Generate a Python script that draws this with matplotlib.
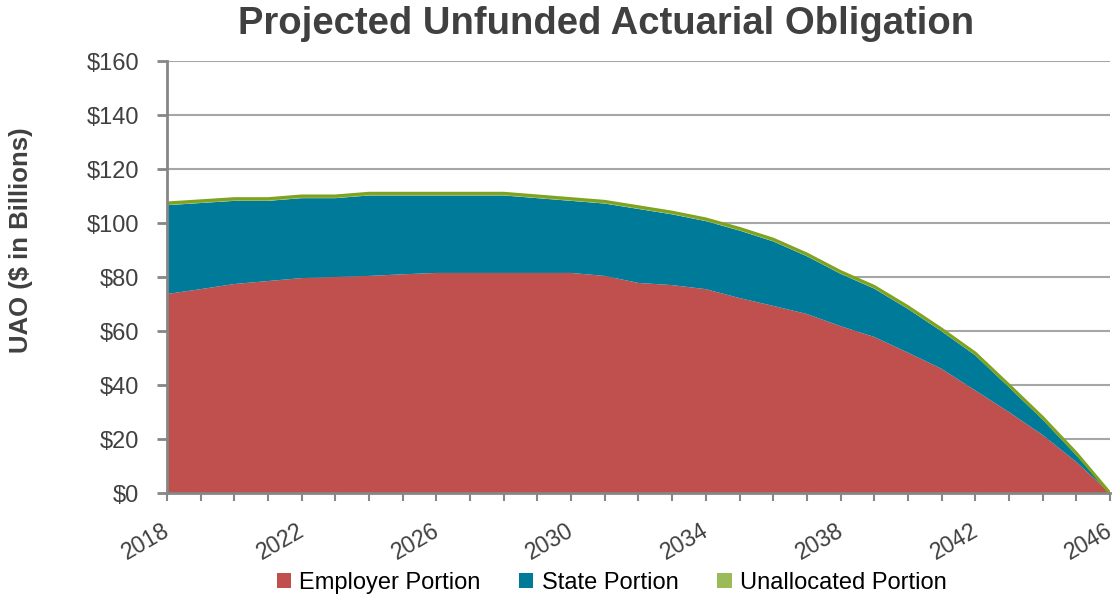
import matplotlib
matplotlib.use("Agg")
import matplotlib.pyplot as plt
import matplotlib.transforms as mtransforms
from matplotlib.ticker import FuncFormatter, MultipleLocator

years = list(range(2018, 2047))
employer = [73.7, 75.5, 77.4, 78.5, 79.6, 80.0, 80.4, 81.0, 81.5, 81.5, 81.5, 81.5, 81.5,
            80.4, 77.8, 77.0, 75.5, 72.2, 69.3, 66.3, 61.8, 57.8, 52.0, 46.0, 38.0,
            30.0, 21.5, 11.5, 0.0]
total = [107.4, 108.2, 109.0, 109.0, 110.0, 110.0, 111.0, 111.0, 111.0, 111.0, 111.0, 110.0, 109.0,
         108.0, 106.0, 104.0, 101.5, 98.0, 94.0, 88.5, 82.0, 76.5, 69.0, 60.7, 51.8,
         40.0, 28.0, 14.8, 0.0]
unallocated = [0.8] * 28 + [0.0]
state = [t - e - u for t, e, u in zip(total, employer, unallocated)]

series_names = ["Employer Portion", "State Portion", "Unallocated Portion"]
colors = ["#C0504D", "#007A99", "#9BBB59"]
year_labels = list(range(2018, 2047, 4))

plt.rcParams["font.family"] = ["Liberation Sans", "DejaVu Sans"]
txt = "#404040"

fig = plt.figure(figsize=(11.16, 6.01), dpi=100)
ax = fig.add_axes([0.1496, 0.1797, 0.845, 0.7188])

ax.stackplot(years, employer, state, unallocated, colors=colors, labels=series_names,
             linewidth=0, zorder=2)
# olive edge along the top of the stack
ax.plot(years, total, color="#7FA31E", linewidth=2.2, zorder=3, solid_joinstyle="round")

ax.set_xlim(2018, 2046)
ax.set_ylim(0, 160)
ax.yaxis.set_major_locator(MultipleLocator(20))
ax.yaxis.set_major_formatter(FuncFormatter(lambda v, p: "${:.0f}".format(v)))
ax.set_xticks(year_labels)
ax.set_xticks(years, minor=True)

ax.grid(axis="y", color="#A6A6A6", linewidth=1.5, zorder=0)
ax.set_axisbelow(True)
for s in ["top", "right"]:
    ax.spines[s].set_visible(False)
for s in ["left", "bottom"]:
    ax.spines[s].set_color("#868686")
    ax.spines[s].set_linewidth(2)
    ax.spines[s].set_zorder(4)

ax.tick_params(axis="y", direction="out", length=7, width=2, color="#868686", pad=13,
               labelsize=17, labelcolor=txt)
ax.tick_params(axis="x", which="both", direction="out", length=5.5, width=1.5, color="#868686",
               labelsize=16.5, labelcolor=txt, pad=13)
shift = mtransforms.ScaledTranslation(-5 / 100, 0, fig.dpi_scale_trans)
for lab in ax.get_xticklabels():
    lab.set_rotation(30)
    lab.set_ha("right")
    lab.set_rotation_mode("anchor")
    lab.set_transform(lab.get_transform() + shift)

ax.set_ylabel("UAO ($ in Billions)", fontsize=18.5, fontweight="bold", color=txt)
ax.yaxis.set_label_coords(-0.142, 0.586)

fig.text(0.543, 0.960, "Projected Unfunded Actuarial Obligation",
         fontsize=27.5, fontweight="bold", color=txt, ha="center", va="center")

leg = fig.legend(loc="center", bbox_to_anchor=(0.548, 0.030), ncol=3, frameon=False,
                 prop={"size": 17}, handlelength=0.6, handleheight=0.6,
                 handletextpad=0.35, columnspacing=1.65)

fig.savefig("out.png", dpi=100)
